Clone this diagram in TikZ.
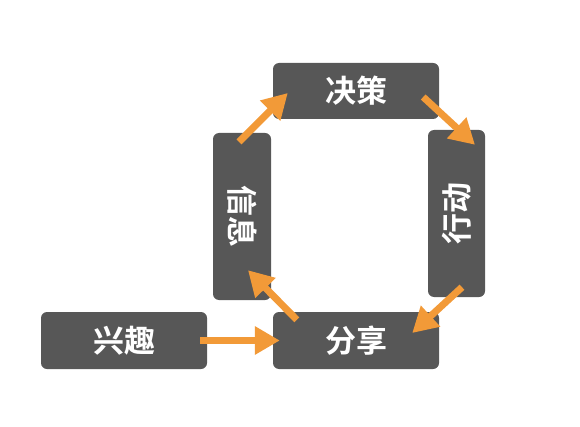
\documentclass[tikz,border=0pt]{standalone}
\usepackage{fontspec}
\newfontfamily\cjk{Noto Sans CJK SC Bold}
\usetikzlibrary{arrows.meta,calc}
\definecolor{boxgray}{HTML}{575757}
\definecolor{arroworange}{HTML}{F29A38}
\begin{document}
\begin{tikzpicture}[x=1pt,y=1pt,
  box/.style={fill=boxgray, rounded corners=6pt, inner sep=0pt},
  txt/.style={text=white, font=\cjk\fontsize{31}{31}\selectfont, inner sep=0pt},
  flow/.style={draw=arroworange, line width=7pt, -{Triangle[length=25pt,width=27pt]}}]
\useasboundingbox (0,0) rectangle (580,426);
\node[box, minimum width=166pt, minimum height=56pt] (juece) at (356,335) {};
\node[txt] (juecet) at (juece) {决策};
\node[box, minimum width=58pt, minimum height=167pt] (xinxi) at (242,209.5) {};
\node[txt, rotate=-90] (xinxit) at (xinxi) {信息};
\node[box, minimum width=57pt, minimum height=167pt] (xingdong) at (456.5,212.5) {};
\node[txt, rotate=90] (xingdongt) at (xingdong) {行动};
\node[box, minimum width=166pt, minimum height=57pt] (xingqu) at (124,85.5) {};
\node[txt] (xingqut) at (xingqu) {兴趣};
\node[box, minimum width=166pt, minimum height=57pt] (fenxiang) at (356,85.5) {};
\node[txt] (fenxiangt) at (fenxiang) {分享};
\draw[flow] ($(xinxi.north)+(-3,-9)$) -- ($(juece.west)+(15,-2)$);
\draw[flow] ($(juece.east)+(-16,-6)$) -- ($(xingdong.north)+(18.5,-15)$);
\draw[flow] ($(xingdong.south)+(5.5,10)$) -- ($(fenxiang.east)+(-27,7.5)$);
\draw[flow] ($(fenxiang.north west)+(24,-8)$) -- ($(xinxi.south)+(6,30)$);
\draw[flow] ($(xingqu.east)+(-7,0)$) -- ($(fenxiang.west)+(7,0)$);
\end{tikzpicture}
\end{document}
